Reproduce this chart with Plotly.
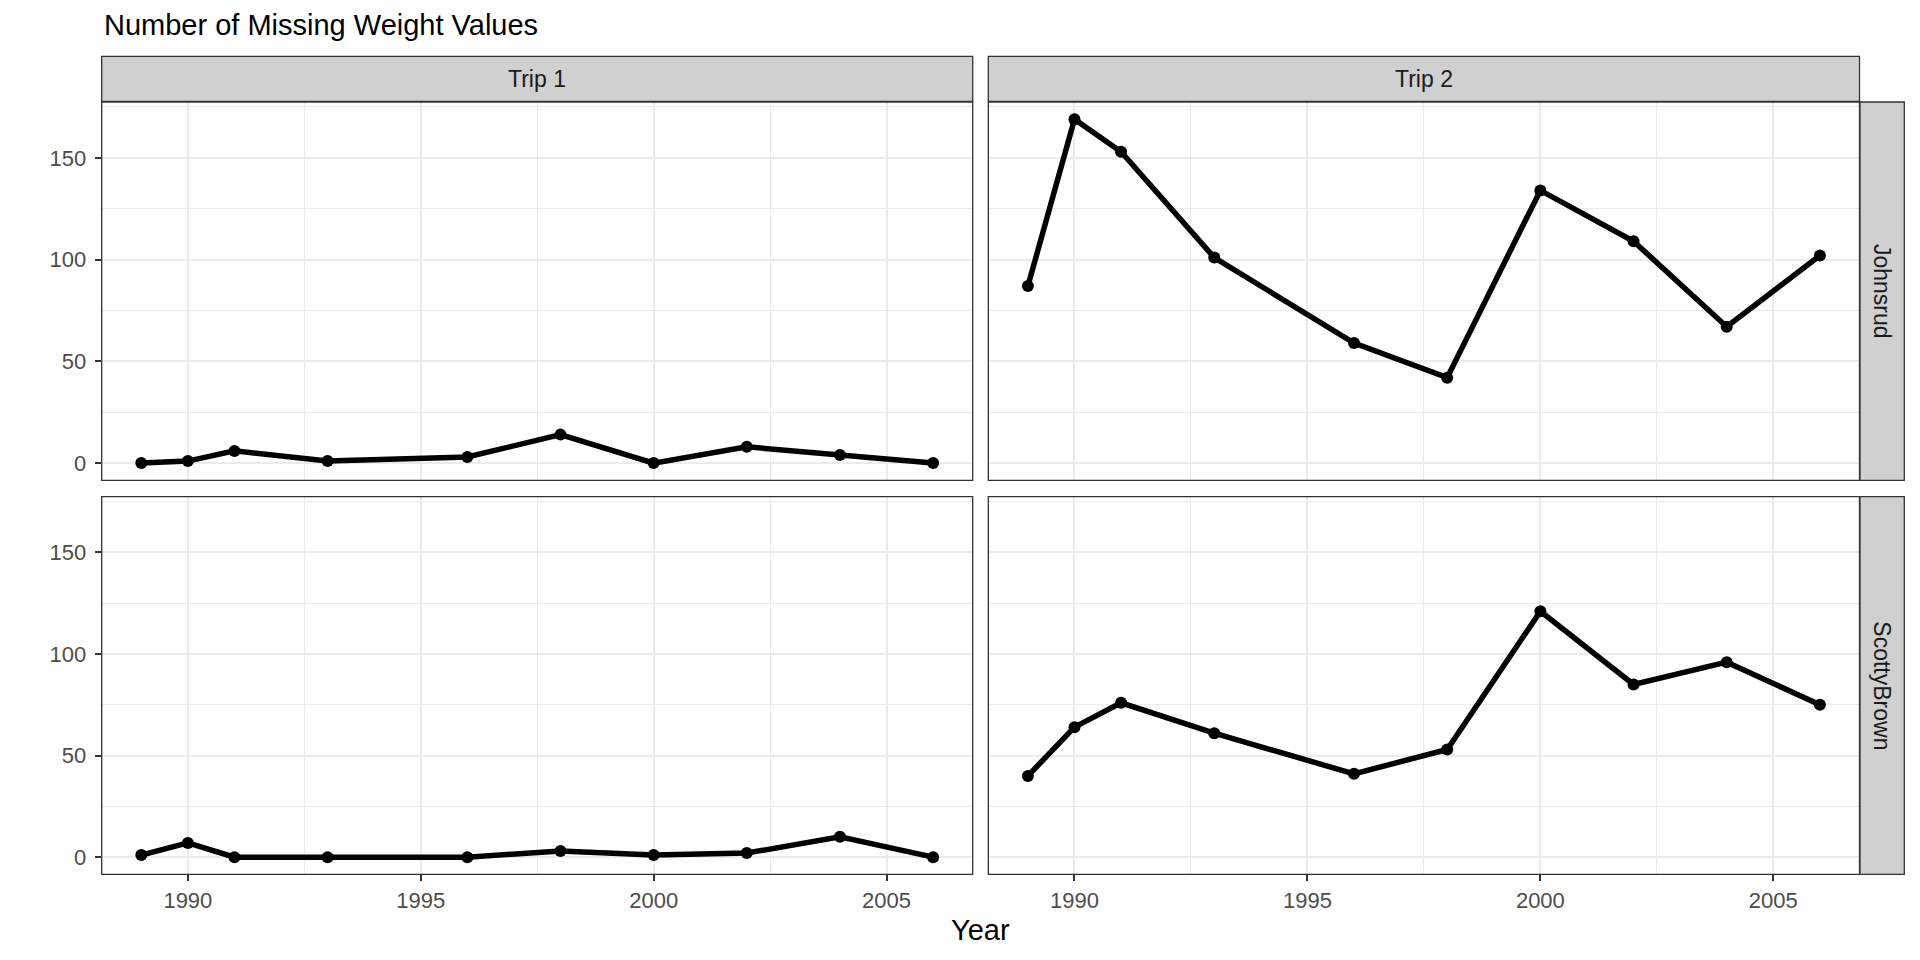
import plotly.graph_objects as go

# ---------------- data ----------------
years = [1989, 1990, 1991, 1993, 1996, 1998, 2000, 2002, 2004, 2006]
trip1_johnsrud = [0, 1, 6, 1, 3, 14, 0, 8, 4, 0]
trip2_johnsrud = [87, 169, 153, 101, 59, 42, 134, 109, 67, 102]
trip1_scottybrown = [1, 7, 0, 0, 0, 3, 1, 2, 10, 0]
trip2_scottybrown = [40, 64, 76, 61, 41, 53, 121, 85, 96, 75]
col_labels = ["Trip 1", "Trip 2"]
row_labels = ["Johnsrud", "ScottyBrown"]
x_ticks = [1990, 1995, 2000, 2005]
y_ticks = [0, 50, 100, 150]
plot_title = "Number of Missing Weight Values"
x_title = "Year"

panels = [
    [trip1_johnsrud, trip2_johnsrud],
    [trip1_scottybrown, trip2_scottybrown],
]

# ---------------- layout geometry (pixels) ----------------
W, H = 1920, 960
col_px = [(101.7, 972.7), (988.3, 1859.5)]
row_px = [(102.0, 480.3), (496.7, 874.3)]
strip_top = (56.3, 101.3)
strip_right = (1860.0, 1904.3)

def px(x):
    return x / W

def py(y):
    return 1 - y / H

FONT = "Liberation Sans, Arial, Helvetica, sans-serif"
GRID = "#EBEBEB"
BORDER = "#333333"
STRIP_FILL = "#D0D0D0"

x_min, x_max = min(years), max(years)
xr = [x_min - 0.05 * (x_max - x_min), x_max + 0.05 * (x_max - x_min)]
all_vals = [v for row in panels for s in row for v in s]
y_lo, y_hi = min(all_vals), max(all_vals)
yr = [y_lo - 0.05 * (y_hi - y_lo), y_hi + 0.05 * (y_hi - y_lo)]

fig = go.Figure()
layout = dict(
    width=W, height=H, autosize=False,
    margin=dict(l=0, r=0, t=0, b=0, pad=0),
    paper_bgcolor="white", plot_bgcolor="white",
    showlegend=False,
    font=dict(family=FONT, color="#1A1A1A"),
)
shapes = []
annotations = []

idx = 0
for r in range(2):
    for c in range(2):
        idx += 1
        sfx = "" if idx == 1 else str(idx)
        fig.add_trace(go.Scatter(
            x=years, y=panels[r][c], mode="lines+markers",
            line=dict(color="black", width=5.5),
            marker=dict(color="black", size=12),
            xaxis="x" + sfx, yaxis="y" + sfx,
            hoverinfo="x+y",
        ))
        show_x = (r == 1)
        show_y = (c == 0)
        layout["xaxis" + sfx] = dict(
            domain=[px(col_px[c][0]), px(col_px[c][1])],
            anchor="y" + sfx, range=xr,
            tickmode="array", tickvals=x_ticks,
            showticklabels=show_x,
            ticks="outside" if show_x else "", ticklen=6, tickwidth=1.5, tickcolor=BORDER,
            tickfont=dict(size=22, color="#4D4D4D", family=FONT),
            showgrid=True, gridcolor=GRID, gridwidth=2,
            minor=dict(dtick=2.5, tick0=1990, showgrid=True, gridcolor=GRID, gridwidth=1, ticks=""),
            zeroline=False, showline=False, fixedrange=True,
        )
        layout["yaxis" + sfx] = dict(
            domain=[py(row_px[r][1]), py(row_px[r][0])],
            anchor="x" + sfx, range=yr,
            tickmode="array", tickvals=y_ticks,
            showticklabels=show_y,
            ticks="outside" if show_y else "", ticklen=6, tickwidth=1.5, tickcolor=BORDER,
            tickfont=dict(size=22, color="#4D4D4D", family=FONT),
            ticklabelstandoff=4,
            showgrid=True, gridcolor=GRID, gridwidth=2,
            minor=dict(dtick=25, tick0=0, showgrid=True, gridcolor=GRID, gridwidth=1, ticks=""),
            zeroline=False, showline=False, fixedrange=True,
        )
        # panel border
        shapes.append(dict(
            type="rect", xref="paper", yref="paper", layer="above",
            x0=px(col_px[c][0]), x1=px(col_px[c][1]),
            y0=py(row_px[r][1]), y1=py(row_px[r][0]),
            line=dict(color=BORDER, width=1.3), fillcolor="rgba(0,0,0,0)",
        ))

# top strips
for c in range(2):
    shapes.append(dict(
        type="rect", xref="paper", yref="paper", layer="above",
        x0=px(col_px[c][0]), x1=px(col_px[c][1]),
        y0=py(strip_top[1]), y1=py(strip_top[0]),
        line=dict(color=BORDER, width=1.3), fillcolor=STRIP_FILL,
    ))
    annotations.append(dict(
        text=col_labels[c], xref="paper", yref="paper", showarrow=False,
        x=px((col_px[c][0] + col_px[c][1]) / 2), y=py((strip_top[0] + strip_top[1]) / 2),
        xanchor="center", yanchor="middle",
        font=dict(size=23, color="#1A1A1A", family=FONT),
    ))

# right strips
for r in range(2):
    shapes.append(dict(
        type="rect", xref="paper", yref="paper", layer="above",
        x0=px(strip_right[0]), x1=px(strip_right[1]),
        y0=py(row_px[r][1]), y1=py(row_px[r][0]),
        line=dict(color=BORDER, width=1.3), fillcolor=STRIP_FILL,
    ))
    annotations.append(dict(
        text=row_labels[r], xref="paper", yref="paper", showarrow=False,
        x=px((strip_right[0] + strip_right[1]) / 2), y=py((row_px[r][0] + row_px[r][1]) / 2),
        xanchor="center", yanchor="middle", textangle=90,
        font=dict(size=23, color="#1A1A1A", family=FONT),
    ))

# title
annotations.append(dict(
    text=plot_title, xref="paper", yref="paper", showarrow=False,
    x=px(101.7), y=py(25), xanchor="left", yanchor="middle",
    font=dict(size=29, color="black", family=FONT),
))
# x axis title
annotations.append(dict(
    text=x_title, xref="paper", yref="paper", showarrow=False,
    x=px((col_px[0][0] + col_px[1][1]) / 2), y=py(930), xanchor="center", yanchor="middle",
    font=dict(size=29, color="black", family=FONT),
))

layout["shapes"] = shapes
layout["annotations"] = annotations
fig.update_layout(**layout)
fig.write_html(
    "out.html",
    config={"displayModeBar": False},
    post_script="document.body.style.margin='0';document.body.style.padding='0';",
)
